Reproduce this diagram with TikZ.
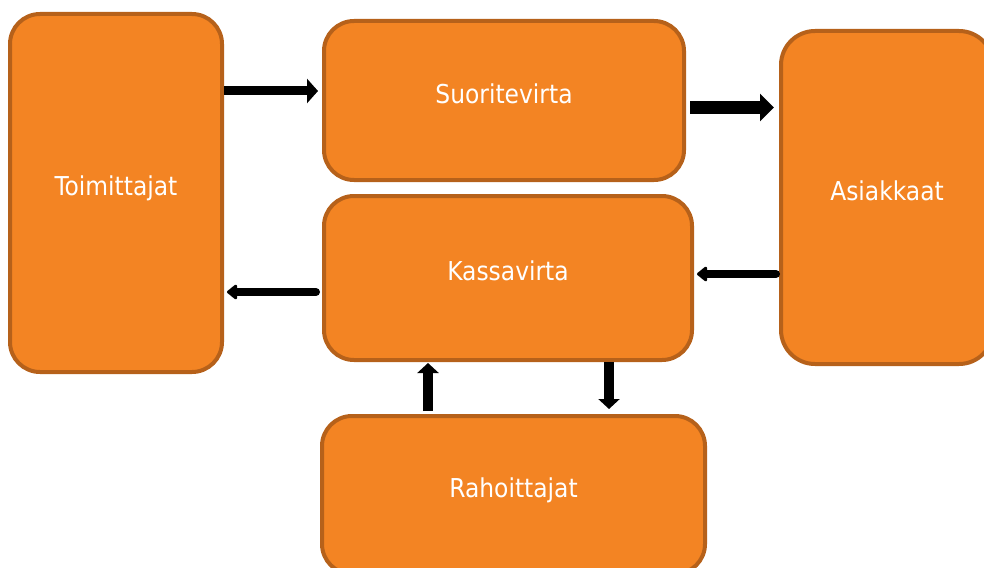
\documentclass[tikz,border=0pt]{standalone}
\usepackage{fontspec}
\setmainfont{DejaVu Sans Condensed}
\usetikzlibrary{arrows.meta}
\definecolor{boxfill}{RGB}{243,132,35}
\definecolor{boxline}{RGB}{182,97,26}
\begin{document}
\begin{tikzpicture}[x=1pt,y=-1pt,
  box/.style={draw=boxline, fill=boxfill, line width=4pt, rounded corners=30pt, inner sep=0pt},
  lbl/.style={text=white, font=\fontsize{26}{31}\selectfont, text height=19pt, text depth=0pt, inner sep=0pt, yshift=7pt},
  arrA/.style={line width=9pt, -{Triangle[width=24pt,length=11pt]}},
  arrB/.style={line width=13pt, -{Triangle[width=27pt,length=14pt]}},
  arrC/.style={line width=8pt, line cap=round, -{Triangle[round,width=17pt,length=11pt]}},
  arrD/.style={line width=10pt, -{Triangle[width=21pt,length=10pt]}}]
\clip (0,0) rectangle (984,567);
\node[box, minimum width=212pt, minimum height=358pt, label={[lbl]center:Toimittajat}] (toim) at (116,193) {};
\node[box, minimum width=360pt, minimum height=159pt, label={[lbl]center:Suoritevirta}] (suor) at (504,100.5) {};
\node[box, minimum width=212pt, minimum height=333pt, rounded corners=34pt, label={[lbl]center:Asiakkaat}] (asia) at (887,197.5) {};
\node[box, minimum width=368pt, minimum height=164pt, label={[lbl]center:Kassavirta}] (kass) at (508,278) {};
\node[box, minimum width=383pt, minimum height=158pt, label={[lbl]center:Rahoittajat}] (raho) at (513.5,495) {};
\draw[arrA, shorten >=4pt] (toim.east |- 0,91) -- (suor.west |- 0,91);
\draw[arrB, shorten <=4pt, shorten >=5pt] (suor.east |- 0,107.5) -- (asia.west |- 0,107.5);
\draw[arrC, shorten <=3pt, shorten >=3pt] (asia.west |- 0,274) -- (kass.east |- 0,274);
\draw[arrC, shorten <=6pt, shorten >=3pt] (kass.west |- 0,292) -- (toim.east |- 0,292);
\draw[arrD, shorten <=3pt, shorten >=1pt] (raho.north -| 428,0) -- (kass.south -| 428,0);
\draw[arrD, shorten >=5pt] (kass.south -| 609,0) -- (raho.north -| 609,0);
\end{tikzpicture}
\end{document}
